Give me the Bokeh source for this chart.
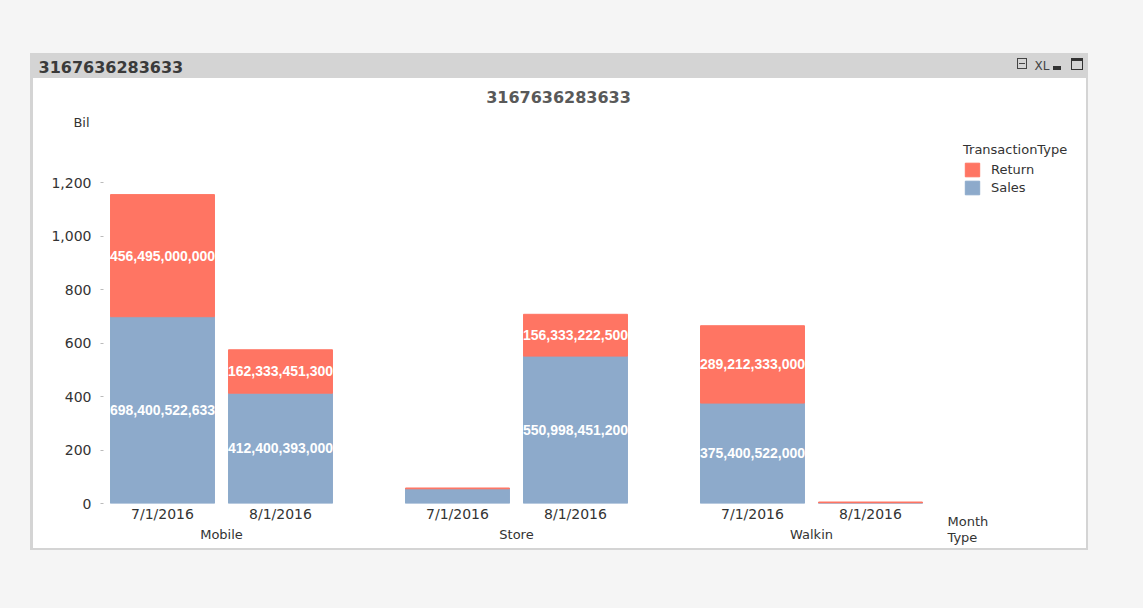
from bokeh.plotting import figure
from bokeh.models import (FactorRange, ColumnDataSource, Legend, LegendItem, Label,
                          FixedTicker, NumeralTickFormatter)
from bokeh.core.properties import value
from bokeh.embed import file_html
from bokeh.resources import INLINE

# ---------------- data ----------------
types = ["Mobile", "Store", "Walkin"]
months = ["7/1/2016", "8/1/2016"]
sales = [698400522633, 412400393000, 55000000000, 550998451200, 375400522000, 2000000000]
returns = [456495000000, 162333451300, 3000000000, 156333222500, 289212333000, 3500000000]
y_ticks = [0, 200, 400, 600, 800, 1000, 1200]
series = ["Sales", "Return"]
caption = "3167636283633"
chart_title = "3167636283633"

# ---------------- styles ----------------
SALES_C = "#8DAACB"
RET_C = "#FF7563"
PAGE_BG = "#f5f5f5"
TXT = "#333333"
FONT = "DejaVu Sans"
BIL = 1e9
FL, FR, FT, FB = 103, 929, 128, 503   # plot frame on the canvas
H = 605

factors = [(t, m) for t in types for m in months]
src = ColumnDataSource(dict(x=factors,
                            Sales=[v / BIL for v in sales],
                            Return=[v / BIL for v in returns]))

p = figure(x_range=FactorRange(*factors, factor_padding=0, group_padding=0.5, range_padding=0),
           y_range=(0, 1402), frame_width=FR - FL, frame_height=FB - FT,
           output_backend="svg", toolbar_location=None,
           min_border_left=FL, min_border_right=150, min_border_top=FT, min_border_bottom=H - FB,
           background_fill_alpha=0, border_fill_alpha=0, outline_line_color=None)

def lab(text, px, py, size, bold=False, color=TXT, align="left", place="above", font=FONT):
    p.add_layout(Label(x=px, y=py, x_units="canvas", y_units="canvas", text=text,
                       text_font=font, text_font_size=size,
                       text_font_style="bold" if bold else "normal",
                       text_color=color, text_align=align, text_baseline="middle"), place)

lab(caption, 38, 66, "16px", bold=True, color="#3a3a3a")
lab("XL", 1034, 65, "12px", color="#444444")
lab(chart_title, 558, 96, "16px", bold=True, color="#595959", align="center")
lab("Bil", 81, 122, "13px", align="center", place="left")
lab("Month", 947, 521, "13px", place="below")
lab("Type", 947, 537, "13px", place="below")

# ---------------- bars ----------------
rs = p.vbar_stack(series, x="x", width=0.881, color=[SALES_C, RET_C], source=src)

# data labels (only on segments tall enough to hold them)
lx, ly, lt = [], [], []
for f, s, r in zip(factors, sales, returns):
    sb, rb = s / BIL, r / BIL
    if sb >= 80:
        lx.append(f); ly.append(sb / 2); lt.append(f"{s:,}")
    if rb >= 80:
        lx.append(f); ly.append(sb + rb / 2); lt.append(f"{r:,}")
p.text(x=lx, y=ly, text=lt, text_color="white", text_font=value("Liberation Sans"),
       text_font_style="bold", text_font_size="14px", text_align="center", text_baseline="middle")

# ---------------- axes ----------------
p.xgrid.visible = False
p.ygrid.visible = False

p.yaxis.ticker = FixedTicker(ticks=y_ticks)
p.yaxis.formatter = NumeralTickFormatter(format="0,0")
p.yaxis.axis_line_color = None
p.yaxis.major_tick_in = 0
p.yaxis.major_tick_out = 3
p.yaxis.major_tick_line_color = "#bbbbbb"
p.yaxis.minor_tick_line_color = None
p.yaxis.major_label_text_font = FONT
p.yaxis.major_label_text_font_size = "14px"
p.yaxis.major_label_text_color = TXT
p.yaxis.major_label_standoff = 9

p.xaxis.axis_line_color = None
p.xaxis.major_tick_line_color = None
p.xaxis.major_tick_out = 0
p.xaxis.major_label_standoff = 2
p.xaxis.major_label_text_font = FONT
p.xaxis.major_label_text_font_size = "14px"
p.xaxis.major_label_text_color = TXT
p.xaxis.group_text_font = FONT
p.xaxis.group_text_font_size = "13px"
p.xaxis.group_text_font_style = "normal"
p.xaxis.group_text_color = TXT
p.xaxis.separator_line_color = None

# ---------------- legend ----------------
legend = Legend(items=[LegendItem(label="Return", renderers=[rs[1]]),
                       LegendItem(label="Sales", renderers=[rs[0]])],
                title="TransactionType", location=(963 - FR, FB - 196),
                background_fill_alpha=0, border_line_color=None,
                padding=0, margin=0, spacing=1, glyph_width=18, glyph_height=17,
                label_standoff=10, label_text_font=FONT, label_text_font_size="13px",
                label_text_color=TXT, title_text_font=FONT, title_text_font_size="13px",
                title_text_font_style="normal", title_text_color=TXT, title_standoff=4)
p.add_layout(legend, "right")

# ---------------- window chrome (page background layers) ----------------
def rect(x, y, w, h, c):
    return f"linear-gradient({c},{c}) {x}px {y}px / {w}px {h}px no-repeat"

chrome = [
    # printer icon
    rect(1017, 58, 10, 1, "#444"), rect(1017, 68, 10, 1, "#444"),
    rect(1017, 58, 1, 11, "#444"), rect(1026, 58, 1, 11, "#444"), rect(1019, 63, 6, 1, "#444"),
    # minimize
    rect(1053, 66, 8, 4, "#333"),
    # maximize
    rect(1071, 58, 12, 3, "#333"), rect(1071, 69, 12, 1, "#333"),
    rect(1071, 58, 1, 12, "#333"), rect(1082, 58, 1, 12, "#333"),
    # white panel and grey window
    rect(33, 78, 1053, 470, "#ffffff"),
    rect(30, 53, 1058, 497, "#d4d4d4"),
]
css = ("<style>html{background:%s; overflow:hidden;} "
       "body{background:%s; background-color:%s; overflow:hidden;}</style>"
       % (PAGE_BG, ", ".join(chrome), PAGE_BG))

html = file_html(p, INLINE)
html = html.replace("<head>", "<head>" + css, 1)
open("out.html", "w").write(html)
